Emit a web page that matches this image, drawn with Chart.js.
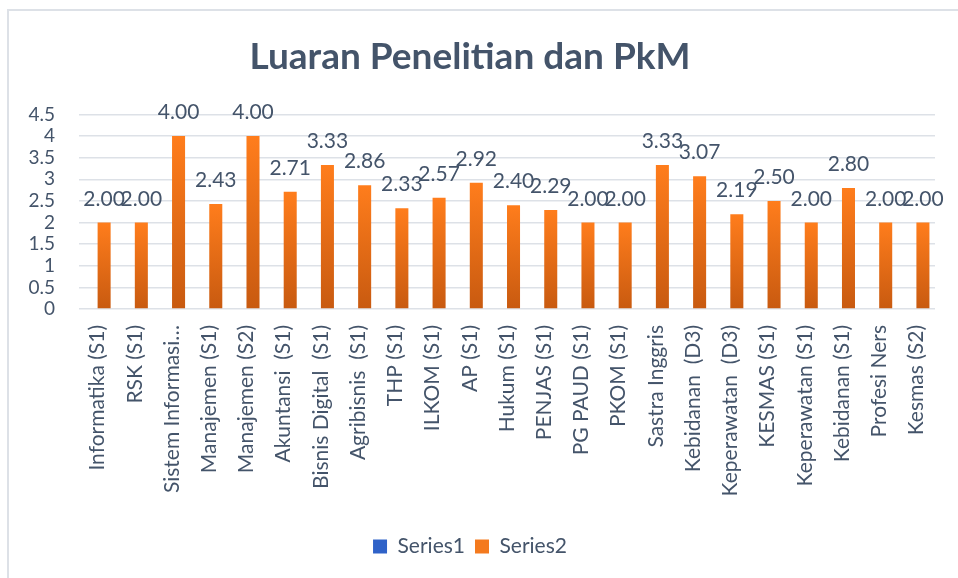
<!DOCTYPE html>
<html>
<head>
<meta charset="utf-8">
<script src="https://cdn.jsdelivr.net/npm/chart.js@4.4.1/dist/chart.umd.min.js"></script>
<style>
    html, body { margin: 0; padding: 0; background: #fff; }
    #frame {
        position: absolute; left: 7px; top: 9px; width: 1000px; height: 620px;
        border: 2px solid #dde1e7; box-sizing: border-box;
    }
    #chart { position: absolute; left: 0; top: 0; }
</style>
</head>
<body>
<div id="frame"></div>
<canvas id="chart" width="958" height="578"></canvas>
<script>
// Chart data
const programs = [
    'Informatika (S1)', 'RSK (S1)', 'Sistem Informasi (S1)', 'Manajemen (S1)', 'Manajemen (S2)',
    'Akuntansi  (S1)', 'Bisnis Digital  (S1)', 'Agribisnis  (S1)', 'THP (S1)', 'ILKOM (S1)',
    'AP (S1)', 'Hukum (S1)', 'PENJAS (S1)', 'PG PAUD (S1)', 'PKOM (S1)', 'Sastra Inggris',
    'Kebidanan  (D3)', 'Keperawatan  (D3)', 'KESMAS (S1)', 'Keperawatan (S1)', 'Kebidanan (S1)',
    'Profesi Ners', 'Kesmas (S2)'
];
const series1 = programs.map(() => null);
const series2 = [2.00, 2.00, 4.00, 2.43, 4.00, 2.71, 3.33, 2.86, 2.33, 2.57, 2.92, 2.40,
    2.29, 2.00, 2.00, 3.33, 3.07, 2.19, 2.50, 2.00, 2.80, 2.00, 2.00];
const seriesNames = ['Series1', 'Series2'];
const yTicks = [0, 0.5, 1, 1.5, 2, 2.5, 3, 3.5, 4, 4.5];

const textColor = '#44546a';
const fontFamily = 'Lato, "Open Sans", sans-serif';
const legendColors = ['#2f62c8', '#f47a1e'];

// vertical gradient for each bar, from its top down to the axis
function barGradient(top, bottom) {
    return function (context) {
        const chart = context.chart;
        const y = chart.scales.y;
        if (!y || context.parsed == null || context.parsed.y == null) return top;
        const yTop = y.getPixelForValue(context.parsed.y);
        const yBase = y.getPixelForValue(0);
        if (!isFinite(yTop) || !isFinite(yBase) || yTop === yBase) return top;
        const g = chart.ctx.createLinearGradient(0, yTop, 0, yBase);
        g.addColorStop(0, top);
        g.addColorStop(1, bottom);
        return g;
    };
}

// draw the value above each bar
const valueLabels = {
    id: 'valueLabels',
    afterDatasetsDraw(chart) {
        const ctx = chart.ctx;
        ctx.save();
        ctx.font = '21px ' + fontFamily;
        ctx.fillStyle = textColor;
        ctx.textAlign = 'center';
        ctx.textBaseline = 'alphabetic';
        chart.data.datasets.forEach((ds, i) => {
            const meta = chart.getDatasetMeta(i);
            meta.data.forEach((bar, j) => {
                const v = ds.data[j];
                if (v == null) return;
                ctx.fillText(v.toFixed(2), bar.x, bar.y - 17);
            });
        });
        ctx.restore();
    }
};

function shortLabel(label) {
    return label.length > 20 ? label.slice(0, 16) + '…' : label;
}

const ctx = document.getElementById('chart').getContext('2d');
const chart = new Chart(ctx, {
    type: 'bar',
    data: {
        labels: programs,
        datasets: [{
            label: seriesNames[0],
            data: series1,
            backgroundColor: barGradient('#4a7fe0', '#2a55b0')
        }, {
            label: seriesNames[1],
            data: series2,
            backgroundColor: barGradient('#ff7d1c', '#c85a10')
        }]
    },
    options: {
        responsive: false,
        animation: false,
        categoryPercentage: 0.7,
        barPercentage: 1.0,
        layout: {
            padding: { left: 0, right: 18, top: 0, bottom: 11 }
        },
        plugins: {
            title: {
                display: true,
                text: 'Luaran Penelitian dan PkM',
                color: textColor,
                font: { family: fontFamily, size: 37, weight: 'bold' },
                padding: { top: 35, bottom: 35 }
            },
            legend: {
                position: 'bottom',
                labels: {
                    color: textColor,
                    font: { family: fontFamily, size: 21 },
                    boxWidth: 14,
                    boxHeight: 14,
                    padding: 10,
                    generateLabels(chart) {
                        const items = Chart.defaults.plugins.legend.labels.generateLabels(chart);
                        items.forEach((item, i) => {
                            item.fillStyle = legendColors[i];
                            item.strokeStyle = legendColors[i];
                            item.lineWidth = 0;
                        });
                        return items;
                    }
                }
            },
            tooltip: { enabled: false }
        },
        scales: {
            x: {
                grid: { display: false, drawTicks: false },
                border: { display: false },
                ticks: {
                    color: textColor,
                    font: { family: fontFamily, size: 21 },
                    minRotation: 90,
                    maxRotation: 90,
                    autoSkip: false,
                    padding: 16,
                    callback: function (value) {
                        return shortLabel(this.getLabelForValue(value));
                    }
                },
                afterFit(scale) { scale.height = 217; }
            },
            y: {
                min: 0,
                max: 4.5,
                afterBuildTicks(scale) {
                    scale.ticks = yTicks.map(v => ({ value: v }));
                },
                grid: { color: '#dde1e7', lineWidth: 1.5, drawTicks: false },
                border: { display: false },
                ticks: {
                    color: textColor,
                    font: { family: fontFamily, size: 19 },
                    padding: 24,
                    autoSkip: false,
                    callback: v => String(v)
                },
                afterFit(scale) { scale.width = 79; }
            }
        }
    },
    plugins: [valueLabels]
});
</script>
</body>
</html>
